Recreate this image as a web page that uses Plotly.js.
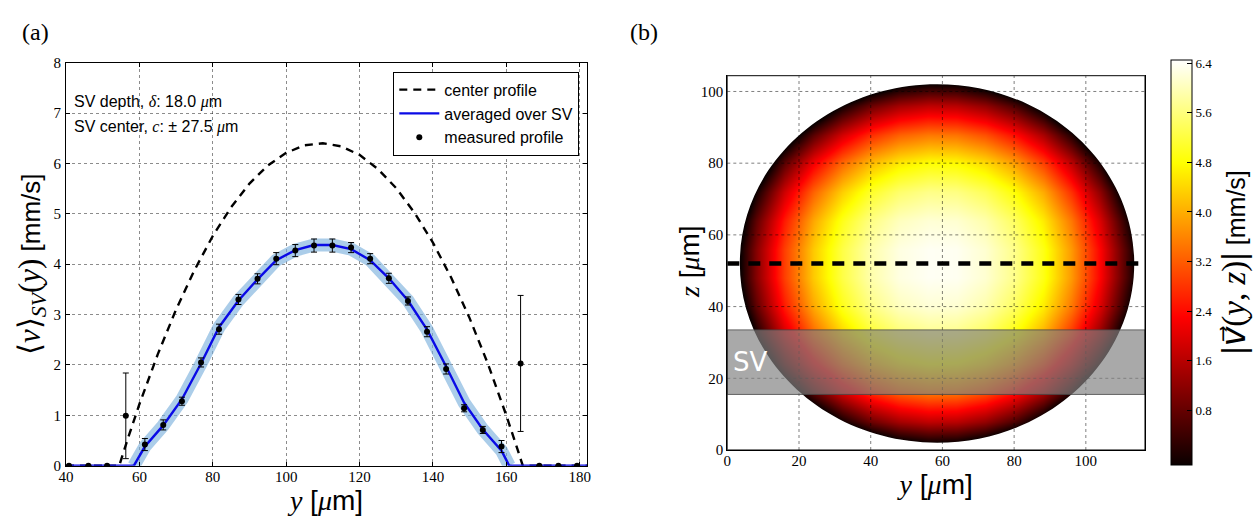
<!DOCTYPE html>
<html>
<head>
<meta charset="utf-8">
<script src="https://cdn.plot.ly/plotly-3.0.1.min.js"></script>
<style>html,body{margin:0;padding:0;background:#fff;}#chart{width:1256px;height:525px;}</style>
</head>
<body>
<div id="chart"></div>
<script>
// ---------- panel (a) data ----------
const measY = [40.8,46.1,51.2,56.3,61.5,66.5,71.6,76.8,81.7,87.0,92.2,97.3,102.5,107.6,112.6,117.7,122.9,128.0,133.2,138.4,143.6,148.5,153.6,158.7,163.9,169.0,174.2,179.3];
const measV = [0,0,0,0.99,0.42,0.81,1.28,2.05,2.71,3.30,3.71,4.11,4.27,4.37,4.37,4.33,4.11,3.72,3.27,2.66,1.92,1.14,0.71,0.38,2.03,0,0,0];
const measErr = [0,0,0,0.85,0.12,0.10,0.08,0.09,0.10,0.10,0.10,0.12,0.12,0.13,0.13,0.10,0.10,0.10,0.08,0.10,0.10,0.07,0.07,0.12,1.35,0,0,0];

const centerY = [40,54.5,57,60,65,70,75,80,85,90,95,100,105,110,115,120,125,130,135,140,145,150,155,160,163,164.5,182];
const centerV = [0,0,0.57,1.22,2.21,3.10,3.88,4.56,5.13,5.60,5.96,6.21,6.36,6.40,6.34,6.17,5.89,5.51,5.02,4.43,3.73,2.93,2.02,1.00,0.34,0,0];

const avgY = [40,58.5,61.5,66.5,71.6,76.8,81.7,87.0,92.2,97.3,102.5,107.6,112.6,117.7,122.9,128.0,133.2,138.4,143.6,148.5,153.6,158.7,160.8,182];
const avgV = [0,0,0.38,0.80,1.32,2.03,2.75,3.28,3.70,4.08,4.28,4.38,4.38,4.30,4.08,3.72,3.28,2.70,1.97,1.25,0.72,0.30,0,0];

const xTicksA = [40,60,80,100,120,140,160,180];
const yTicksA = [0,1,2,3,4,5,6,7,8];

// ---------- panel (b) data ----------
const heatY = [0,8,16,24,32,40,48,56,64,72,80,88,96,104,112,120];
const heatZ = [0,8,16,24,32,40,48,56,64,72,80,88,96,104];
const row0  = [-9.6,-7.3,-5.4,-3.8,-2.5,-1.55,-0.92,-0.65,-0.71,-1.11,-1.85,-2.95,-4.35,-6.1,-8.1,-10.5];
const row8  = [-7.2,-4.9,-3.0,-1.31,-0.05,0.85,1.42,1.68,1.62,1.25,0.56,-0.48,-1.9,-3.65,-5.7,-8.1];
const row16 = [-5.2,-2.9,-0.90,0.67,1.87,2.72,3.25,3.48,3.43,3.08,2.43,1.46,0.13,-1.6,-3.7,-6.1];
const row24 = [-3.55,-1.22,0.68,2.18,3.31,4.10,4.58,4.80,4.75,4.44,3.84,2.92,1.66,0.01,-2.05,-4.5];
const row32 = [-2.30,-0.02,1.82,3.26,4.32,5.05,5.49,5.68,5.64,5.36,4.82,3.97,2.76,1.18,-0.82,-3.25];
const row40 = [-1.50,0.76,2.55,3.94,4.96,5.64,6.03,6.18,6.15,5.91,5.41,4.61,3.47,1.93,-0.04,-2.45];
const row48 = [-1.07,1.13,2.91,4.27,5.25,5.90,6.26,6.38,6.36,6.15,5.69,4.93,3.80,2.30,0.36,-2.05];
const row56 = [-1.07,1.13,2.91,4.27,5.25,5.90,6.26,6.38,6.36,6.15,5.69,4.93,3.80,2.30,0.36,-2.05];
const row64 = [-1.50,0.76,2.55,3.94,4.96,5.64,6.03,6.18,6.15,5.91,5.41,4.61,3.47,1.93,-0.04,-2.45];
const row72 = [-2.30,-0.02,1.82,3.26,4.32,5.05,5.49,5.68,5.64,5.36,4.82,3.97,2.76,1.18,-0.82,-3.25];
const row80 = [-3.55,-1.22,0.68,2.18,3.31,4.10,4.58,4.80,4.75,4.44,3.84,2.92,1.66,0.01,-2.05,-4.5];
const row88 = [-5.2,-2.9,-0.90,0.67,1.87,2.72,3.25,3.48,3.43,3.08,2.43,1.46,0.13,-1.6,-3.7,-6.1];
const row96 = [-7.2,-4.9,-3.0,-1.31,-0.05,0.85,1.42,1.68,1.62,1.25,0.56,-0.48,-1.9,-3.65,-5.7,-8.1];
const row104= [-9.6,-7.3,-5.4,-3.8,-2.5,-1.55,-0.92,-0.65,-0.71,-1.11,-1.85,-2.95,-4.35,-6.1,-8.1,-10.5];
const heatV = [row0,row8,row16,row24,row32,row40,row48,row56,row64,row72,row80,row88,row96,row104];

const tubeCenterY = 58.5, tubeCenterZ = 52.05, tubeRadY = 55, tubeRadZ = 50;
const centerLineZ = 52;
const svLow = 15.5, svHigh = 33.5;
const xRangeB = [0,116.5], yRangeB = [0,104.4];
const xTicksB = [0,20,40,60,80,100];
const yTicksB = [0,20,40,60,80,100];
const cbTicks = [0.8,1.6,2.4,3.2,4.0,4.8,5.6,6.4];
const cbText = ['0.8','1.6','2.4','3.2','4.0','4.8','5.6','6.4'];

// ---------- helpers ----------
const W = 1256, H = 525;
const px = v => v / W;
const py = v => (H - v) / H;
const SERIF = 'Liberation Serif';
const SANS = 'Liberation Sans';
const ser = s => '<span style="font-family:' + SERIF + '">' + s + '</span>';
const serBig = s => '<span style="font-family:' + SERIF + ';font-size:31px">' + s + '</span>';

function ellipsePath(cx, cy, a, b) {
  const k = 0.5523;
  return 'M' + (cx + a) + ',' + cy +
    ' C' + (cx + a) + ',' + (cy + k * b) + ' ' + (cx + k * a) + ',' + (cy + b) + ' ' + cx + ',' + (cy + b) +
    ' C' + (cx - k * a) + ',' + (cy + b) + ' ' + (cx - a) + ',' + (cy + k * b) + ' ' + (cx - a) + ',' + cy +
    ' C' + (cx - a) + ',' + (cy - k * b) + ' ' + (cx - k * a) + ',' + (cy - b) + ' ' + cx + ',' + (cy - b) +
    ' C' + (cx + k * a) + ',' + (cy - b) + ' ' + (cx + a) + ',' + (cy - k * b) + ' ' + (cx + a) + ',' + cy + ' Z';
}

const hotScale = [[0,'rgb(10,0,0)'],[0.365,'rgb(255,0,0)'],[0.746,'rgb(255,255,0)'],[1,'rgb(255,255,255)']];

const bandY = avgY.slice(1, avgY.length - 1);
const bandV = avgV.slice(1, avgV.length - 1);

const traces = [
  {x: bandY, y: bandV, type: 'scatter', mode: 'lines', xaxis: 'x', yaxis: 'y',
   line: {color: 'rgba(120,175,220,0.62)', width: 13}, showlegend: false, hoverinfo: 'skip'},
  {x: centerY, y: centerV, type: 'scatter', mode: 'lines', name: 'center profile', xaxis: 'x', yaxis: 'y',
   line: {color: 'black', width: 2.4, dash: '8px,6px'}},
  {x: avgY, y: avgV, type: 'scatter', mode: 'lines', name: 'averaged over SV', xaxis: 'x', yaxis: 'y',
   line: {color: '#0a0ae6', width: 2.4}},
  {x: measY, y: measV, type: 'scatter', mode: 'markers', name: 'measured profile', xaxis: 'x', yaxis: 'y',
   marker: {color: 'black', size: 6},
   error_y: {type: 'data', array: measErr, visible: true, color: 'black', thickness: 1, width: 3}},
  {x: heatY, y: heatZ, z: heatV, type: 'heatmap', xaxis: 'x2', yaxis: 'y2', zsmooth: 'best',
   colorscale: hotScale, zmin: -0.08, zmax: 6.45, showlegend: false,
   colorbar: {x: px(1171), xanchor: 'left', y: 0.5, yanchor: 'middle', len: 405 / H, lenmode: 'fraction',
     thickness: 21, thicknessmode: 'pixels', xpad: 0, ypad: 0, outlinewidth: 1, outlinecolor: 'black',
     tickvals: cbTicks, ticktext: cbText, ticks: 'inside', ticklen: 5, tickcolor: 'black',
     tickfont: {family: SERIF, size: 13, color: 'black'},
     title: {text: '<span style="font-size:33px">|<span style="font-family:DejaVu Sans"><i>v\u20D7</i></span>' +
       ser('(<i>y</i>, <i>z</i>)') + '|</span> [mm/s]', side: 'right',
       font: {family: SANS, size: 25, color: 'black'}}}}
];

const gridStyle = {color: 'rgba(0,0,0,0.5)', width: 1, dash: 'dot'};
const shapes = [];
shapes.push({type: 'path', xref: 'x2', yref: 'y2', layer: 'above', fillrule: 'evenodd',
  path: 'M-10,-10 H130 V120 H-10 Z ' + ellipsePath(tubeCenterY, tubeCenterZ, tubeRadY, tubeRadZ),
  fillcolor: 'white', line: {width: 0}});
xTicksB.slice(1).forEach(v => shapes.push({type: 'line', xref: 'x2', yref: 'y2', layer: 'above',
  x0: v, x1: v, y0: yRangeB[0], y1: yRangeB[1], line: gridStyle}));
yTicksB.slice(1).forEach(v => shapes.push({type: 'line', xref: 'x2', yref: 'y2', layer: 'above',
  x0: xRangeB[0], x1: xRangeB[1], y0: v, y1: v, line: gridStyle}));
shapes.push({type: 'rect', xref: 'x2', yref: 'y2', layer: 'above', x0: xRangeB[0], x1: xRangeB[1], y0: svLow, y1: svHigh,
  fillcolor: 'rgba(128,128,128,0.68)', line: {color: 'rgba(70,70,70,0.8)', width: 1}});
shapes.push({type: 'line', xref: 'x2', yref: 'y2', layer: 'above', x0: xRangeB[0], x1: xRangeB[1], y0: centerLineZ, y1: centerLineZ,
  line: {color: 'black', width: 4.5, dash: '12px,9px'}});
shapes.push({type: 'rect', xref: 'x2', yref: 'y2', layer: 'above', x0: xRangeB[0], x1: xRangeB[1], y0: yRangeB[0], y1: yRangeB[1],
  line: {color: 'black', width: 1}});

const axisCommon = {showline: true, mirror: 'ticks', linecolor: 'black', linewidth: 1, ticks: 'inside', ticklen: 4,
  tickcolor: 'black', zeroline: false, tickfont: {family: SERIF, size: 15, color: 'black'}};

const layout = {
  width: W, height: H, margin: {l: 0, r: 0, t: 0, b: 0}, paper_bgcolor: 'white', plot_bgcolor: 'white',
  showlegend: true,
  legend: {x: px(579.3), xanchor: 'right', y: py(71.7), yanchor: 'top', bgcolor: 'white', bordercolor: 'black',
    borderwidth: 1, font: {family: SANS, size: 16, color: 'black'}, itemwidth: 40},
  xaxis: Object.assign({}, axisCommon, {domain: [px(66), px(587)], range: [40, 182], tickvals: xTicksA,
    showgrid: true, gridcolor: 'rgba(0,0,0,0.45)', griddash: 'dot', anchor: 'y', ticklabelstandoff: -3,
    title: {text: ser('<i>y</i>') + ' [' + ser('<i>μ</i>') + 'm]', font: {family: SANS, size: 28, color: 'black'}, standoff: 6}}),
  yaxis: Object.assign({}, axisCommon, {domain: [py(465.7), py(62.7)], range: [0, 8], tickvals: yTicksA,
    showgrid: true, gridcolor: 'rgba(0,0,0,0.45)', griddash: 'dot', anchor: 'x', ticklabelstandoff: 1,
    title: {text: serBig('⟨<i>v</i>⟩<sub><i>SV</i></sub>(<i>y</i>)') + ' [mm/s]', font: {family: SANS, size: 26, color: 'black'}, standoff: 5}}),
  xaxis2: Object.assign({}, axisCommon, {domain: [px(727.3), px(1145)], range: xRangeB, tickvals: xTicksB,
    showgrid: false, anchor: 'y2', ticklabelstandoff: -3,
    title: {text: ser('<i>y</i>') + ' [' + ser('<i>μ</i>') + 'm]', font: {family: SANS, size: 28, color: 'black'}, standoff: 4}}),
  yaxis2: Object.assign({}, axisCommon, {domain: [py(450), py(75.7)], range: yRangeB, tickvals: yTicksB,
    showgrid: false, anchor: 'x2'}),
  shapes: shapes,
  annotations: [
    {xref: 'paper', yref: 'paper', x: px(20), y: py(17), text: '(a)', showarrow: false,
     font: {family: SERIF, size: 24, color: 'black'}},
    {xref: 'paper', yref: 'paper', x: px(644), y: py(17), text: '(b)', showarrow: false,
     font: {family: SERIF, size: 24, color: 'black'}},
    {xref: 'paper', yref: 'paper', x: px(689), y: py(262), textangle: -90, showarrow: false,
     text: ser('<i>z</i>') + ' [' + ser('<i>μ</i>') + 'm]', font: {family: SANS, size: 28, color: 'black'}},
    {xref: 'paper', yref: 'paper', x: px(72), y: py(101.7), xanchor: 'left', yanchor: 'middle', showarrow: false,
     text: 'SV depth, ' + ser('<i>δ</i>') + ': 18.0 ' + ser('<i>μ</i>') + 'm', font: {family: SANS, size: 16, color: 'black'}},
    {xref: 'paper', yref: 'paper', x: px(72), y: py(126.7), xanchor: 'left', yanchor: 'middle', showarrow: false,
     text: 'SV center, ' + ser('<i>c</i>') + ': ± 27.5 ' + ser('<i>μ</i>') + 'm', font: {family: SANS, size: 16, color: 'black'}},
    {xref: 'x2', yref: 'y2', x: 1, y: 24.5, xanchor: 'left', yanchor: 'middle', showarrow: false,
     text: 'SV', font: {family: 'DejaVu Sans', size: 26, color: 'white'}}
  ]
};

Plotly.newPlot('chart', traces, layout, {displayModeBar: false, staticPlot: true});
</script>
</body>
</html>
